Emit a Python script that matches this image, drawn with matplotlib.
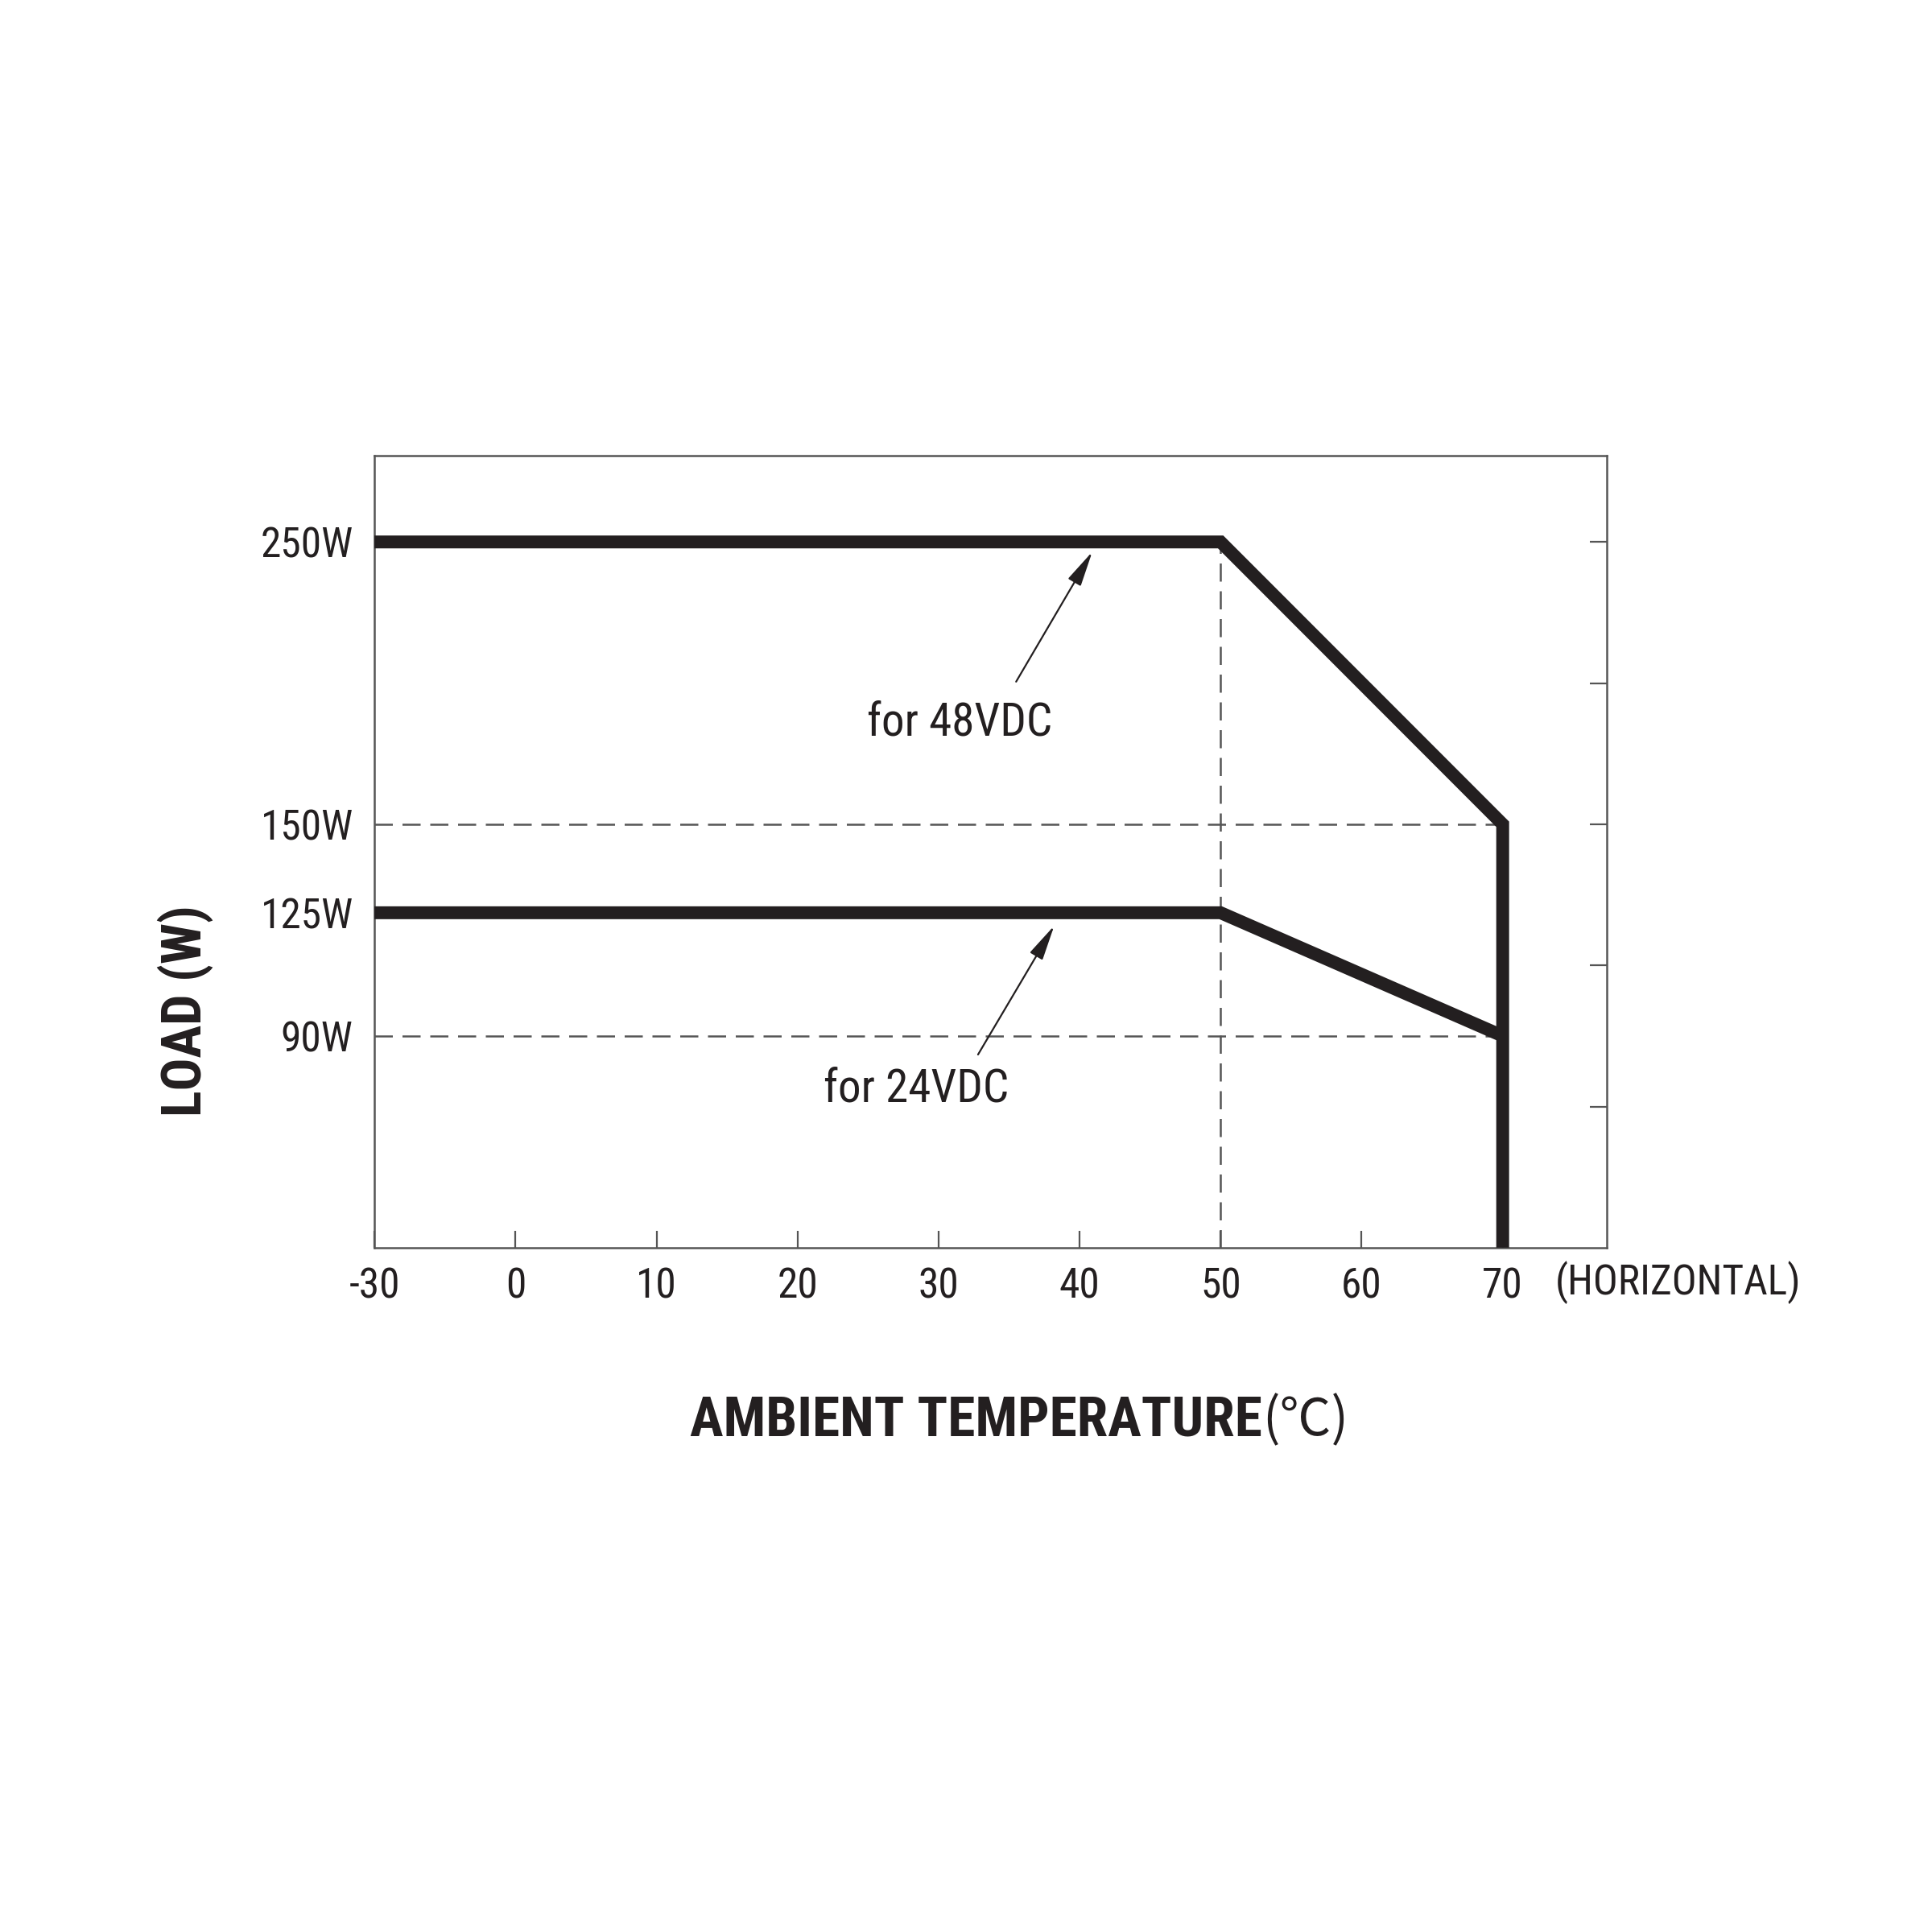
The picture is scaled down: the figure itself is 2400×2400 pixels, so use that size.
import numpy as np
import matplotlib
matplotlib.use("Agg")
import matplotlib.pyplot as plt
from matplotlib import font_manager

# ---------------- data ----------------
temp_48 = [-30, 50, 70, 70]
load_48 = [250, 250, 150, 0]
temp_24 = [-30, 50, 70]
load_24 = [125, 125, 90]

x_ticks = [-30, 0, 10, 20, 30, 40, 50, 60, 70]
x_ticklabels = ["-30", "0", "10", "20", "30", "40", "50", "60", "70"]
y_ticks = [90, 125, 150, 250]
y_ticklabels = ["90W", "125W", "150W", "250W"]
right_tick_loads = [60, 110, 150, 200, 250]

ref_temp = 50          # vertical dashed reference
ref_loads = [150, 90]  # horizontal dashed references
derate_end = 70

# ---------------- fonts ----------------
def pick_family(prefs):
    have = {}
    for f in font_manager.fontManager.ttflist:
        if f.style != "normal" or "[" in f.fname:
            continue
        have.setdefault(f.name, set()).add(f.weight)
    for p in prefs:
        w = have.get(p, set())
        if 400 in w and 700 in w:
            return p
    return "Liberation Sans"


NARROW = pick_family(["Roboto Condensed", "Archivo Narrow", "PT Sans Narrow",
                      "Liberation Sans Narrow", "IBM Plex Sans Condensed",
                      "Fira Sans Condensed"])
FAM = [NARROW, "DejaVu Sans"]
plt.rcParams["font.family"] = FAM

INK = "#231f20"
GRAY = "#555555"

# ---------------- schematic scales ----------------
LOAD_KNOTS = np.array([0.0, 90.0, 125.0, 150.0, 300.0])
POS_KNOTS = np.array([0.0, 1.5, 2.373, 3.0, 6.0])


def y_fwd(v):
    return np.interp(v, LOAD_KNOTS, POS_KNOTS)


def y_inv(p):
    return np.interp(p, POS_KNOTS, LOAD_KNOTS)


def x_fwd(x):
    x = np.asarray(x, dtype=float)
    return np.where(x < 0, x / 3.0, x)


def x_inv(x):
    x = np.asarray(x, dtype=float)
    return np.where(x < 0, x * 3.0, x)


fig = plt.figure(figsize=(24, 24), dpi=100, facecolor="white")
ax = fig.add_axes([0.1938, 0.3542, 0.638, 0.41])
ax.set_xscale("function", functions=(x_fwd, x_inv))
ax.set_yscale("function", functions=(y_fwd, y_inv))
ax.set_xlim(-30, 77.4)
ax.set_ylim(0, 280.6)

# dashed reference lines
dash = dict(color=GRAY, lw=1.8, linestyle=(0, (9, 4.8)), zorder=2)
ax.plot([ref_temp, ref_temp], [0, load_48[1]], **dash)
for rl in ref_loads:
    ax.plot([x_ticks[0], derate_end], [rl, rl], **dash)

# derating curves
style = dict(color=INK, lw=11.5, solid_joinstyle="miter", solid_capstyle="butt", zorder=3)
ax.plot(temp_48, load_48, **style)
ax.plot(temp_24, load_24, **style)

# spines
for s in ax.spines.values():
    s.set_color(GRAY)
    s.set_linewidth(1.8)

# ticks
ax.set_xticks(x_ticks)
ax.set_xticklabels(x_ticklabels)
ax.tick_params(axis="x", which="major", direction="in", length=15, width=1.6,
               color=GRAY, labelsize=37, pad=17, top=False, labelcolor=INK)
ax.yaxis.remove_overlapping_locs = False
ax.set_yticks(y_ticks)
ax.set_yticklabels(y_ticklabels)
ax.tick_params(axis="y", which="major", length=0, labelsize=37, pad=19,
               left=True, right=False, labelcolor=INK)
ax.set_yticks(right_tick_loads, minor=True)
ax.tick_params(axis="y", which="minor", direction="in", length=15, width=1.6,
               color=GRAY, left=False, right=True, labelleft=False, labelright=False)
ax.xaxis.set_minor_locator(matplotlib.ticker.NullLocator())

# annotations
arrow = dict(arrowstyle="-|>,head_length=1.35,head_width=0.28", color=INK, lw=1.6,
             mutation_scale=20, shrinkA=0, shrinkB=0)
ax.annotate("", xy=(40.9, 246.5), xytext=(35.5, 200.5), arrowprops=arrow)
ax.annotate("", xy=(38.2, 121.3), xytext=(32.8, 82.1), arrowprops=arrow)
ax.text(31.5, 186, "for 48VDC", fontsize=41, ha="center", va="center", color=INK)
ax.text(28.4, 67.4, "for 24VDC", fontsize=41, ha="center", va="center", color=INK)

# axis labels
fig.text(0.805, 0.336, "(HORIZONTAL)", fontsize=37, ha="left", va="center", color=INK)
fig.text(0.0958, 0.477, "LOAD (W)", fontsize=49, fontweight="bold", rotation=90,
         ha="center", va="center", color=INK)
t1 = fig.text(0.357, 0.2646, "AMBIENT TEMPERATURE", fontsize=50, fontweight="bold",
              ha="left", va="center", color=INK)
ax.annotate("(℃)", xy=(1, 0.5), xycoords=t1, xytext=(0, 0), textcoords="offset points",
            fontsize=46, ha="left", va="center", color=INK,
            family=["Noto Sans CJK SC", "DejaVu Sans"], annotation_clip=False)

fig.savefig("out.png", dpi=100, facecolor="white")
